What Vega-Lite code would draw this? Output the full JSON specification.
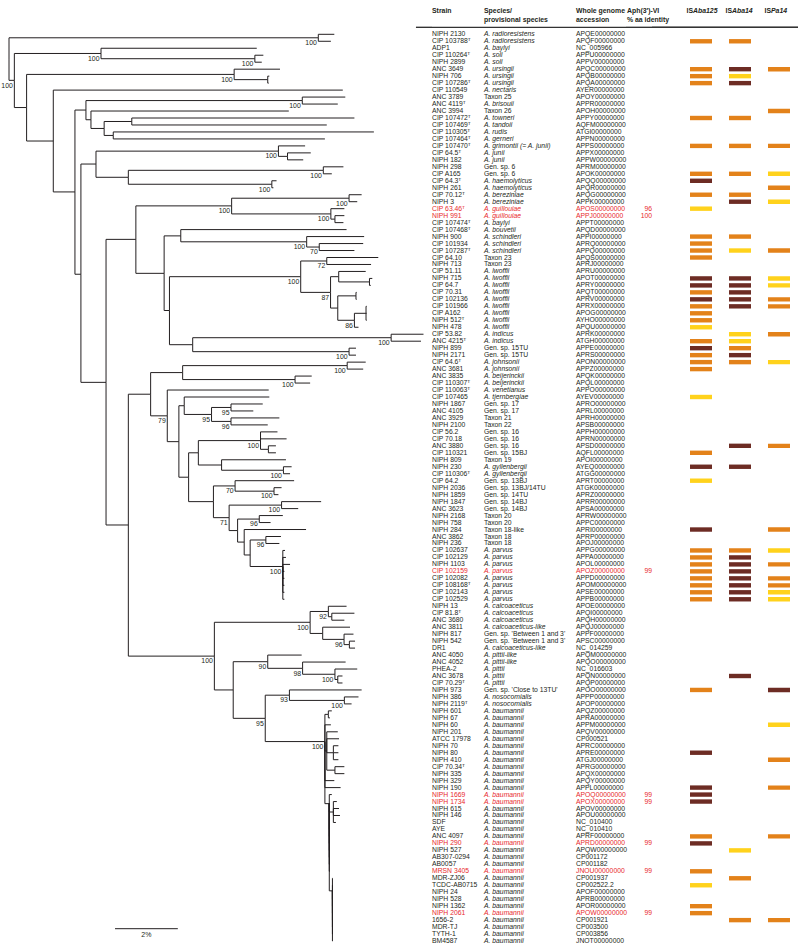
{
"$schema": "https://vega.github.io/schema/vega-lite/v6.json",
"padding": 0, "spacing": 0, "bounds": "flush", "background": "white",
"config": {"view": {"stroke": null}, "axis": {"disable": true}, "legend": {"disable": true},
  "text": {"font": "Liberation Sans", "fontSize": 6.8, "baseline": "middle", "align": "left", "color": "#231F20", "fill": "#231F20"},
  "rule": {"color": "#231F20", "strokeWidth": 1}},
"datasets": {
"headers": [
 {"col": "strain", "text": ["Strain"]},
 {"col": "species", "text": ["Species/", "provisional species"]},
 {"col": "acc", "text": ["Whole genome", "accession"]},
 {"col": "aph", "text": ["Aph(3′)-VI", "% aa identity"]},
 {"col": "a", "pre": "IS", "suf": "Aba125"},
 {"col": "b", "pre": "IS", "suf": "Aba14"},
 {"col": "c", "pre": "IS", "suf": "Pa14"}
],
"nodes": [
{"id":"root","parent":null,"x":0,"y":3.55},
{"id":"n43","parent":"root","x":0.17,"y":6.6,"bs":100},
{"id":"rad","parent":"root","x":9.85,"y":0.5,"bs":100},
{"id":"bs","parent":"n43","x":2.93,"y":2.75,"bs":100},
{"id":"soli","parent":"bs","x":7.83,"y":3.5,"bs":100},
{"id":"A","parent":"n43","x":0.56,"y":10.5},
{"id":"urs","parent":"A","x":7.17,"y":5.75,"bs":100},
{"id":"urs2","parent":"urs","x":8.24,"y":6.5},
{"id":"B","parent":"A","x":1.41,"y":15.3},
{"id":"C","parent":"B","x":2.10,"y":22.6},
{"id":"D","parent":"C","x":2.45,"y":10.86},
{"id":"tt","parent":"D","x":9.34,"y":9.5,"bs":100},
{"id":"F","parent":"D","x":2.61,"y":12.25},
{"id":"G","parent":"F","x":3.03,"y":13.5},
{"id":"H","parent":"G","x":3.91,"y":12.5},
{"id":"I","parent":"G","x":3.32,"y":14.5},
{"id":"E","parent":"C","x":2.29,"y":34.4},
{"id":"J","parent":"E","x":2.77,"y":18.6},
{"id":"L","parent":"J","x":8.58,"y":16.75,"bs":100},
{"id":"M","parent":"L","x":8.87,"y":17.5},
{"id":"N","parent":"J","x":3.80,"y":20.5},
{"id":"O","parent":"N","x":10.01,"y":19.5,"bs":100},
{"id":"P","parent":"N","x":8.37,"y":21.5,"bs":100},
{"id":"K","parent":"E","x":3.09,"y":49.9},
{"id":"Q","parent":"K","x":4.04,"y":29.4},
{"id":"R","parent":"Q","x":7.09,"y":24.6,"bs":100},
{"id":"S","parent":"R","x":10.83,"y":23.5,"bs":100},
{"id":"T","parent":"R","x":10.25,"y":25.75,"bs":100},
{"id":"U","parent":"T","x":10.38,"y":26.5},
{"id":"V","parent":"Q","x":4.94,"y":34.27},
{"id":"W","parent":"V","x":5.47,"y":28.9},
{"id":"X","parent":"W","x":9.48,"y":29.75,"bs":100},
{"id":"Y","parent":"X","x":9.88,"y":30.5,"bs":70},
{"id":"Z","parent":"V","x":5.11,"y":39.6},
{"id":"AA","parent":"Z","x":9.29,"y":34.75,"bs":100},
{"id":"AB","parent":"AA","x":10.12,"y":32.5,"bs":72},
{"id":"AC","parent":"AA","x":10.24,"y":37,"bs":87},
{"id":"AD","parent":"AC","x":10.50,"y":34.75},
{"id":"AE","parent":"AD","x":11.48,"y":35.5},
{"id":"AF","parent":"AC","x":10.47,"y":39.25},
{"id":"AG","parent":"AF","x":11.05,"y":37.5},
{"id":"AH","parent":"AF","x":11.0,"y":41,"bs":86},
{"id":"AI","parent":"AH","x":11.37,"y":40},
{"id":"AJ","parent":"Z","x":5.85,"y":44.5},
{"id":"AK","parent":"AJ","x":12.17,"y":43.5,"bs":100},
{"id":"AL","parent":"AJ","x":10.83,"y":45.5,"bs":100},
{"id":"BP","parent":"K","x":3.80,"y":70.35},
{"id":"AP","parent":"BP","x":4.51,"y":51.6},
{"id":"AO","parent":"AP","x":5.53,"y":48.5},
{"id":"AM","parent":"AO","x":10.77,"y":47.5,"bs":100},
{"id":"AN","parent":"AO","x":9.11,"y":49.5,"bs":100},
{"id":"AQ","parent":"AP","x":5.04,"y":54.7,"bs":79},
{"id":"AR","parent":"AQ","x":5.41,"y":58.4},
{"id":"AS","parent":"AR","x":5.58,"y":53.25},
{"id":"AT","parent":"AS","x":6.45,"y":54.5,"bs":95},
{"id":"AU","parent":"AT","x":7.07,"y":53.5,"bs":95},
{"id":"AV","parent":"AT","x":7.07,"y":55.5,"bs":96},
{"id":"AW","parent":"AR","x":5.72,"y":63.5},
{"id":"AX","parent":"AW","x":6.03,"y":60},
{"id":"AY","parent":"AX","x":8.01,"y":58.25,"bs":100},
{"id":"BB","parent":"AY","x":8.26,"y":59.5},
{"id":"BA","parent":"AX","x":6.77,"y":61.75},
{"id":"BC","parent":"BA","x":8.74,"y":62.5,"bs":100},
{"id":"BD","parent":"AW","x":6.51,"y":67.0},
{"id":"BE","parent":"BD","x":7.20,"y":64.75,"bs":70},
{"id":"BF","parent":"BE","x":8.44,"y":65.5,"bs":100},
{"id":"BG","parent":"BD","x":7.01,"y":69.3,"bs":71},
{"id":"BH","parent":"BG","x":8.68,"y":67.5,"bs":100},
{"id":"BI","parent":"BG","x":7.28,"y":71.15},
{"id":"BJ","parent":"BI","x":7.97,"y":69.5,"bs":96},
{"id":"BK","parent":"BI","x":7.49,"y":72.8},
{"id":"BL","parent":"BK","x":7.68,"y":74.65},
{"id":"BM","parent":"BL","x":8.18,"y":72.5,"bs":96},
{"id":"BN","parent":"BL","x":8.72,"y":76.3,"bs":100},
{"id":"BO","parent":"BP","x":6.54,"y":89.15,"bs":100},
{"id":"BQ","parent":"BO","x":9.59,"y":84.3,"bs":100},
{"id":"BR","parent":"BQ","x":10.17,"y":82.75,"bs":92},
{"id":"BT","parent":"BR","x":10.28,"y":83.5},
{"id":"BS","parent":"BQ","x":9.99,"y":85.9},
{"id":"BU","parent":"BS","x":10.67,"y":86.75,"bs":96},
{"id":"BV","parent":"BU","x":10.84,"y":87.5},
{"id":"BW","parent":"BO","x":7.14,"y":94.0},
{"id":"BX","parent":"BW","x":8.24,"y":89.95,"bs":90},
{"id":"BY","parent":"BX","x":9.35,"y":90.9,"bs":98},
{"id":"BZ","parent":"BY","x":10.38,"y":91.75,"bs":100},
{"id":"CA","parent":"BZ","x":10.47,"y":92.5},
{"id":"CB","parent":"BW","x":8.16,"y":98.07,"bs":95},
{"id":"CC","parent":"CB","x":8.93,"y":94.75,"bs":93},
{"id":"CD","parent":"CC","x":10.68,"y":95.5,"bs":100},
{"id":"CE","parent":"CB","x":10.06,"y":101.4,"bs":100},
{"id":"Ca","parent":"CE","x":10.17,"y":97.5},
{"id":"Cb","parent":"CE","x":10.12,"y":102.75},
{"id":"Cc","parent":"Cb","x":10.33,"y":103},
{"id":"Cd","parent":"Cb","x":10.38,"y":105.5},
{"id":"Cf","parent":"CE","x":10.20,"y":110.3},
{"id":"Cg","parent":"Cf","x":10.33,"y":111.5},
{"id":"Ch","parent":"Cf","x":10.30,"y":122.8}
],
"tbl": [
{"r":0,"s":"NIPH 2130","sp":"A. radioresistens","acc":"APQE00000000","p":"rad","t":10.36},
{"r":1,"s":"CIP 103788ᵀ","sp":"A. radioresistens","acc":"APQF00000000","a":"O","b":"O","p":"rad","t":10.25},
{"r":2,"s":"ADP1","sp":"A. baylyi","acc":"NC_005966","p":"bs","t":7.89},
{"r":3,"s":"CIP 110264ᵀ","sp":"A. soli","acc":"APPU00000000","p":"soli","t":8.10},
{"r":4,"s":"NIPH 2899","sp":"A. soli","acc":"APPV00000000","p":"soli","t":8.05},
{"r":5,"s":"ANC 3649","sp":"A. ursingii","acc":"APQC00000000","a":"O","b":"D","c":"O","p":"urs","t":8.63},
{"r":6,"s":"NIPH 706","sp":"A. ursingii","acc":"APQB00000000","a":"O","b":"Y","p":"urs2","t":8.29},
{"r":7,"s":"CIP 107286ᵀ","sp":"A. ursingii","acc":"APQA00000000","a":"O","b":"D","p":"urs2","t":8.27},
{"r":8,"s":"CIP 110549","sp":"A. nectaris","acc":"AYER00000000","p":"B","t":10.63},
{"r":9,"s":"ANC 3789","sp":"Taxon 25","acc":"APOY00000000","p":"tt","t":10.71},
{"r":10,"s":"ANC 4119ᵀ","sp":"A. brisouii","acc":"APPR00000000","p":"tt","t":10.47},
{"r":11,"s":"ANC 3994","sp":"Taxon 26","acc":"APOH00000000","c":"O","p":"F","t":8.91},
{"r":12,"s":"CIP 107472ᵀ","sp":"A. towneri","acc":"APPY00000000","a":"O","b":"O","p":"H","t":11.0},
{"r":13,"s":"CIP 107469ᵀ","sp":"A. tandoii","acc":"AQFM00000000","p":"H","t":10.12},
{"r":14,"s":"CIP 110305ᵀ","sp":"A. rudis","acc":"ATGI00000000","p":"I","t":11.62},
{"r":15,"s":"CIP 107464ᵀ","sp":"A. gerneri","acc":"APPN00000000","p":"I","t":10.06},
{"r":16,"s":"CIP 107470ᵀ","sp":"A. grimontii (= A. junii)","acc":"APPS00000000","a":"O","b":"O","c":"O","p":"L","t":9.43},
{"r":17,"s":"CIP 64.5ᵀ","sp":"A. junii","acc":"APPX00000000","p":"M","t":9.61},
{"r":18,"s":"NIPH 182","sp":"A. junii","acc":"APPW00000000","p":"M","t":9.37},
{"r":19,"s":"NIPH 298","sp":"Gen. sp. 6","acc":"APRM00000000","p":"O","t":10.65},
{"r":20,"s":"CIP A165","sp":"Gen. sp. 6","acc":"APOK00000000","a":"O","b":"O","c":"Y","p":"O","t":10.28},
{"r":21,"s":"CIP 64.3ᵀ","sp":"A. haemolyticus","acc":"APQQ00000000","a":"D","p":"P","t":8.52},
{"r":22,"s":"NIPH 261","sp":"A. haemolyticus","acc":"APQR00000000","c":"O","p":"P","t":8.42},
{"r":23,"s":"CIP 70.12ᵀ","sp":"A. bereziniae","acc":"APQG00000000","a":"O","b":"O","p":"S","t":11.23},
{"r":24,"s":"NIPH 3","sp":"A. bereziniae","acc":"APPK00000000","b":"D","c":"Y","p":"S","t":11.09},
{"r":25,"s":"CIP 63.46ᵀ","sp":"A. guillouiae","acc":"APOS00000000","aph":"96","a":"Y","p":"T","t":10.68},
{"r":26,"s":"NIPH 991","sp":"A. guillouiae","acc":"APPJ00000000","aph":"100","p":"U","t":10.68},
{"r":27,"s":"CIP 107474ᵀ","sp":"A. baylyi","acc":"APPT00000000","p":"U","t":10.65},
{"r":28,"s":"CIP 107468ᵀ","sp":"A. bouvetii","acc":"APQD00000000","p":"W","t":10.75},
{"r":29,"s":"NIPH 900","sp":"A. schindleri","acc":"APPI00000000","a":"O","b":"O","p":"X","t":11.31},
{"r":30,"s":"CIP 101934","sp":"A. schindleri","acc":"APRQ00000000","a":"O","p":"Y","t":11.28},
{"r":31,"s":"CIP 107287ᵀ","sp":"A. schindleri","acc":"APPQ00000000","a":"O","b":"Y","c":"O","p":"Y","t":11.0},
{"r":32,"s":"CIP 64.10","sp":"Taxon 23","acc":"APQS00000000","a":"O","p":"AB","t":11.76},
{"r":33,"s":"NIPH 713","sp":"Taxon 23","acc":"APRJ00000000","p":"AB","t":11.53},
{"r":34,"s":"CIP 51.11","sp":"A. lwoffii","acc":"APRU00000000","p":"AD","t":11.36},
{"r":35,"s":"NIPH 715","sp":"A. lwoffii","acc":"APOT00000000","a":"D","b":"D","c":"Y","p":"AE","t":11.57},
{"r":36,"s":"CIP 64.7","sp":"A. lwoffii","acc":"APRY00000000","a":"D","b":"D","c":"Y","p":"AE","t":11.52},
{"r":37,"s":"CIP 70.31","sp":"A. lwoffii","acc":"APQT00000000","a":"O","b":"D","p":"AG","t":11.07},
{"r":38,"s":"CIP 102136","sp":"A. lwoffii","acc":"APRV00000000","a":"D","b":"D","c":"O","p":"AG","t":11.07},
{"r":39,"s":"CIP 101966","sp":"A. lwoffii","acc":"APRX00000000","a":"O","b":"D","c":"O","p":"AI","t":11.39},
{"r":40,"s":"CIP A162","sp":"A. lwoffii","acc":"APOG00000000","a":"O","p":"AI","t":11.39},
{"r":41,"s":"NIPH 512ᵀ","sp":"A. lwoffii","acc":"AYHO00000000","a":"O","p":"AI","t":11.39},
{"r":42,"s":"NIPH 478","sp":"A. lwoffii","acc":"APQU00000000","a":"Y","p":"AH","t":11.13},
{"r":43,"s":"CIP 53.82","sp":"A. indicus","acc":"APRK00000000","b":"Y","c":"O","p":"AK","t":13.2},
{"r":44,"s":"ANC 4215ᵀ","sp":"A. indicus","acc":"ATGH00000000","a":"O","b":"Y","p":"AK","t":13.12},
{"r":45,"s":"NIPH 899","sp":"Gen. sp. 15TU","acc":"APPE00000000","a":"D","b":"O","p":"AL","t":11.05},
{"r":46,"s":"NIPH 2171","sp":"Gen. sp. 15TU","acc":"APRS00000000","a":"O","b":"D","p":"AL","t":11.05},
{"r":47,"s":"CIP 64.6ᵀ","sp":"A. johnsonii","acc":"APON00000000","a":"O","b":"O","c":"Y","p":"AM","t":11.36},
{"r":48,"s":"ANC 3681","sp":"A. johnsonii","acc":"APPZ00000000","a":"O","p":"AM","t":11.28},
{"r":49,"s":"ANC 3835","sp":"A. beijerinckii","acc":"APQK00000000","p":"AN","t":9.64},
{"r":50,"s":"CIP 110307ᵀ","sp":"A. beijerinckii","acc":"APQL00000000","p":"AN","t":9.59},
{"r":51,"s":"CIP 110063ᵀ","sp":"A. venetianus","acc":"APPO00000000","p":"AQ","t":8.27},
{"r":52,"s":"CIP 107465","sp":"A. tjernbergiae","acc":"AYEV00000000","a":"Y","p":"AS","t":8.29},
{"r":53,"s":"NIPH 1867","sp":"Gen. sp. 17","acc":"APRO00000000","p":"AU","t":8.08},
{"r":54,"s":"ANC 4105","sp":"Gen. sp. 17","acc":"APRL00000000","p":"AU","t":7.78},
{"r":55,"s":"ANC 3929","sp":"Taxon 21","acc":"APRH00000000","p":"AV","t":8.61},
{"r":56,"s":"NIPH 2100","sp":"Taxon 22","acc":"APSB00000000","p":"AV","t":8.24},
{"r":57,"s":"CIP 56.2","sp":"Gen. sp. 16","acc":"APPH00000000","p":"AY","t":8.55},
{"r":58,"s":"CIP 70.18","sp":"Gen. sp. 16","acc":"APRN00000000","p":"AY","t":8.84},
{"r":59,"s":"ANC 3880","sp":"Gen. sp. 16","acc":"APSD00000000","b":"D","c":"O","p":"BB","t":8.50},
{"r":60,"s":"CIP 110321","sp":"Gen. sp. 15BJ","acc":"AQFL00000000","a":"O","p":"BB","t":8.50},
{"r":61,"s":"NIPH 809","sp":"Taxon 19","acc":"APOI00000000","p":"BA","t":8.82},
{"r":62,"s":"NIPH 230","sp":"A. gyllenbergii","acc":"AYEQ00000000","a":"D","b":"D","p":"BC","t":9.0},
{"r":63,"s":"CIP 110306ᵀ","sp":"A. gyllenbergii","acc":"ATGG00000000","p":"BC","t":8.95},
{"r":64,"s":"CIP 64.2","sp":"Gen. sp. 13BJ","acc":"APRT00000000","a":"Y","p":"BE","t":9.08},
{"r":65,"s":"NIPH 2036","sp":"Gen. sp. 13BJ/14TU","acc":"ATGK00000000","p":"BF","t":8.68},
{"r":66,"s":"NIPH 1859","sp":"Gen. sp. 14TU","acc":"APRZ00000000","p":"BF","t":8.58},
{"r":67,"s":"NIPH 1847","sp":"Gen. sp. 14BJ","acc":"APRR00000000","p":"BH","t":9.94},
{"r":68,"s":"ANC 3623","sp":"Gen. sp. 14BJ","acc":"APSA00000000","p":"BH","t":9.21},
{"r":69,"s":"NIPH 2168","sp":"Taxon 20","acc":"APRW00000000","p":"BJ","t":8.72},
{"r":70,"s":"NIPH 758","sp":"Taxon 20","acc":"APPC00000000","p":"BJ","t":8.33},
{"r":71,"s":"NIPH 284","sp":"Taxon 18-like","acc":"APRI00000000","a":"D","c":"O","p":"BK","t":9.46},
{"r":72,"s":"ANC 3862","sp":"Taxon 18","acc":"APRP00000000","p":"BM","t":8.66},
{"r":73,"s":"NIPH 236","sp":"Taxon 18","acc":"APOJ00000000","p":"BM","t":8.61},
{"r":74,"s":"CIP 102637","sp":"A. parvus","acc":"APPG00000000","a":"O","b":"O","c":"Y","p":"BN","t":8.79},
{"r":75,"s":"CIP 102129","sp":"A. parvus","acc":"APPA00000000","a":"O","b":"D","p":"BN","t":8.82},
{"r":76,"s":"NIPH 1103","sp":"A. parvus","acc":"APOL00000000","a":"O","b":"D","c":"O","p":"BN","t":8.95},
{"r":77,"s":"CIP 102159","sp":"A. parvus","acc":"APOZ00000000","aph":"99","a":"O","b":"D","p":"BN","t":8.77},
{"r":78,"s":"CIP 102082","sp":"A. parvus","acc":"APPD00000000","a":"O","b":"D","c":"O","p":"BN","t":8.77},
{"r":79,"s":"CIP 108168ᵀ","sp":"A. parvus","acc":"APOM00000000","a":"O","b":"D","c":"O","p":"BN","t":8.77},
{"r":80,"s":"CIP 102143","sp":"A. parvus","acc":"APSE00000000","a":"O","b":"D","c":"Y","p":"BN","t":8.77},
{"r":81,"s":"CIP 102529","sp":"A. parvus","acc":"APPB00000000","a":"O","b":"D","c":"Y","p":"BN","t":8.77},
{"r":82,"s":"NIPH 13","sp":"A. calcoaceticus","acc":"APOE00000000","p":"BR","t":10.75},
{"r":83,"s":"CIP 81.8ᵀ","sp":"A. calcoaceticus","acc":"APQI00000000","p":"BT","t":11.0},
{"r":84,"s":"ANC 3680","sp":"A. calcoaceticus","acc":"APQH00000000","p":"BT","t":10.68},
{"r":85,"s":"ANC 3811","sp":"A. calcoaceticus-like","acc":"APQJ00000000","p":"BS","t":10.86},
{"r":86,"s":"NIPH 817","sp":"Gen. sp. 'Between 1 and 3'","acc":"APPF00000000","p":"BU","t":10.97},
{"r":87,"s":"NIPH 542","sp":"Gen. sp. 'Between 1 and 3'","acc":"APSC00000000","p":"BV","t":11.02},
{"r":88,"s":"DR1","sp":"A. calcoaceticus-like","acc":"NC_014259","p":"BV","t":11.02},
{"r":89,"s":"ANC 4050","sp":"A. pittii-like","acc":"APQM00000000","p":"BX","t":9.32},
{"r":90,"s":"ANC 4052","sp":"A. pittii-like","acc":"APQO00000000","p":"BY","t":10.72},
{"r":91,"s":"PHEA-2","sp":"A. pittii","acc":"NC_016603","p":"BZ","t":11.09},
{"r":92,"s":"ANC 3678","sp":"A. pittii","acc":"APQN00000000","b":"D","p":"CA","t":10.62},
{"r":93,"s":"CIP 70.29ᵀ","sp":"A. pittii","acc":"APQP00000000","p":"CA","t":10.62},
{"r":94,"s":"NIPH 973","sp":"Gen. sp. 'Close to 13TU'","acc":"APOO00000000","a":"O","c":"D","p":"CC","t":11.23},
{"r":95,"s":"NIPH 386","sp":"A. nosocomialis","acc":"APPP00000000","p":"CD","t":11.13},
{"r":96,"s":"NIPH 2119ᵀ","sp":"A. nosocomialis","acc":"APOP00000000","p":"CD","t":10.91},
{"r":97,"s":"NIPH 601","sp":"A. baumannii","acc":"APQZ00000000","p":"Ca","t":10.28},
{"r":98,"s":"NIPH 67","sp":"A. baumannii","acc":"APRA00000000","p":"Ca","t":10.22},
{"r":99,"s":"NIPH 60","sp":"A. baumannii","acc":"APPM00000000","c":"Y","p":"CE","t":10.25},
{"r":100,"s":"NIPH 201","sp":"A. baumannii","acc":"APQV00000000","p":"Cb","t":10.47},
{"r":101,"s":"ATCC 17978","sp":"A. baumannii","acc":"CP000521","p":"Cb","t":10.51},
{"r":102,"s":"NIPH 70","sp":"A. baumannii","acc":"APRC00000000","p":"Cc","t":10.49},
{"r":103,"s":"NIPH 80","sp":"A. baumannii","acc":"APRE00000000","a":"D","p":"Cc","t":10.49},
{"r":104,"s":"NIPH 410","sp":"A. baumannii","acc":"ATGJ00000000","c":"O","p":"Cc","t":10.49},
{"r":105,"s":"CIP 70.34ᵀ","sp":"A. baumannii","acc":"APRG00000000","p":"Cd","t":10.68},
{"r":106,"s":"NIPH 335","sp":"A. baumannii","acc":"APQX00000000","p":"Cd","t":10.68},
{"r":107,"s":"NIPH 329","sp":"A. baumannii","acc":"APQY00000000","p":"CE","t":10.36},
{"r":108,"s":"NIPH 190","sp":"A. baumannii","acc":"APPL00000000","a":"D","c":"O","p":"CE","t":10.56},
{"r":109,"s":"NIPH 1669","sp":"A. baumannii","acc":"APOQ00000000","aph":"99","a":"D","p":"Cf","t":10.28},
{"r":110,"s":"NIPH 1734","sp":"A. baumannii","acc":"APOX00000000","aph":"99","a":"D","p":"Cg","t":10.44},
{"r":111,"s":"NIPH 615","sp":"A. baumannii","acc":"APOV00000000","p":"Cg","t":10.51},
{"r":112,"s":"NIPH 146","sp":"A. baumannii","acc":"APOU00000000","p":"Cg","t":10.54},
{"r":113,"s":"SDF","sp":"A. baumannii","acc":"NC_010400","p":"Cg","t":10.41},
{"r":114,"s":"AYE","sp":"A. baumannii","acc":"NC_010410","p":"Cf","t":10.22},
{"r":115,"s":"ANC 4097","sp":"A. baumannii","acc":"APRF00000000","a":"O","c":"O","p":"Cf","t":10.22},
{"r":116,"s":"NIPH 290","sp":"A. baumannii","acc":"APRD00000000","aph":"99","a":"D","p":"Cf","t":10.22},
{"r":117,"s":"NIPH 527","sp":"A. baumannii","acc":"APQW00000000","b":"Y","p":"Cf","t":10.22},
{"r":118,"s":"AB307-0294","sp":"A. baumannii","acc":"CP001172","p":"Cf","t":10.22},
{"r":119,"s":"AB0057","sp":"A. baumannii","acc":"CP001182","p":"Cf","t":10.22},
{"r":120,"s":"MRSN 3405","sp":"A. baumannii","acc":"JNOU00000000","aph":"99","a":"O","p":"Cf","t":10.22},
{"r":121,"s":"MDR-ZJ06","sp":"A. baumannii","acc":"CP001937","b":"O","p":"Ch","t":10.31},
{"r":122,"s":"TCDC-AB0715","sp":"A. baumannii","acc":"CP002522.2","a":"Y","p":"Ch","t":10.31},
{"r":123,"s":"NIPH 24","sp":"A. baumannii","acc":"APOF00000000","p":"Ch","t":10.31},
{"r":124,"s":"NIPH 528","sp":"A. baumannii","acc":"APRB00000000","p":"Ch","t":10.31},
{"r":125,"s":"NIPH 1362","sp":"A. baumannii","acc":"APOR00000000","a":"O","p":"Ch","t":10.31},
{"r":126,"s":"NIPH 2061","sp":"A. baumannii","acc":"APOW00000000","aph":"99","a":"O","p":"Ch","t":10.31},
{"r":127,"s":"1656-2","sp":"A. baumannii","acc":"CP001921","b":"O","c":"O","p":"Ch","t":10.31},
{"r":128,"s":"MDR-TJ","sp":"A. baumannii","acc":"CP003500","p":"Ch","t":10.31},
{"r":129,"s":"TYTH-1","sp":"A. baumannii","acc":"CP003856","p":"Ch","t":10.31},
{"r":130,"s":"BM4587","sp":"A. baumannii","acc":"JNOT00000000","p":"Ch","t":10.31}
]
},
"hconcat": [
{
 "width": 432, "height": 949,
 "layer": [
  {"data": {"name": "tbl"},
   "transform": [{"lookup": "p", "from": {"data": {"name": "nodes"}, "key": "id", "fields": ["x", "y"]}, "as": ["px", "py"]}],
   "mark": {"type": "rule"},
   "encoding": {
    "x": {"field": "px", "type": "quantitative", "scale": {"domain": [-0.287, 13.471], "nice": false, "zero": false}},
    "x2": {"field": "t"},
    "y": {"field": "r", "type": "quantitative", "scale": {"domain": [-4.918, 131.14], "nice": false, "zero": false, "reverse": true}}}},
  {"data": {"name": "tbl"},
   "transform": [{"lookup": "p", "from": {"data": {"name": "nodes"}, "key": "id", "fields": ["x", "y"]}, "as": ["px", "py"]}],
   "mark": {"type": "rule"},
   "encoding": {
    "x": {"field": "px", "type": "quantitative", "scale": {"domain": [-0.287, 13.471], "nice": false, "zero": false}},
    "y": {"field": "r", "type": "quantitative", "scale": {"domain": [-4.918, 131.14], "nice": false, "zero": false, "reverse": true}},
    "y2": {"field": "py"}}},
  {"data": {"name": "nodes"},
   "transform": [{"lookup": "parent", "from": {"data": {"name": "nodes"}, "key": "id", "fields": ["x", "y"]}, "as": ["px", "py"]}, {"filter": "isValid(datum.px)"}],
   "mark": {"type": "rule"},
   "encoding": {
    "x": {"field": "px", "type": "quantitative", "scale": {"domain": [-0.287, 13.471], "nice": false, "zero": false}},
    "x2": {"field": "x"},
    "y": {"field": "y", "type": "quantitative", "scale": {"domain": [-4.918, 131.14], "nice": false, "zero": false, "reverse": true}}}},
  {"data": {"name": "nodes"},
   "transform": [{"lookup": "parent", "from": {"data": {"name": "nodes"}, "key": "id", "fields": ["x", "y"]}, "as": ["px", "py"]}, {"filter": "isValid(datum.px)"}],
   "mark": {"type": "rule"},
   "encoding": {
    "x": {"field": "px", "type": "quantitative", "scale": {"domain": [-0.287, 13.471], "nice": false, "zero": false}},
    "y": {"field": "y", "type": "quantitative", "scale": {"domain": [-4.918, 131.14], "nice": false, "zero": false, "reverse": true}},
    "y2": {"field": "py"}}},
  {"data": {"name": "nodes"},
   "transform": [{"filter": "isValid(datum.bs)"}],
   "mark": {"type": "text", "align": "right", "dx": -1.5, "dy": 5.3, "fontSize": 6.9},
   "encoding": {
    "x": {"field": "x", "type": "quantitative", "scale": {"domain": [-0.287, 13.471], "nice": false, "zero": false}},
    "y": {"field": "y", "type": "quantitative", "scale": {"domain": [-4.918, 131.14], "nice": false, "zero": false, "reverse": true}},
    "text": {"field": "bs"}}},
  {"data": {"values": [{"x": 3.376, "x2": 5.376, "xm": 4.376, "y": 128.23, "ly": 129.13, "label": "2%"}]},
   "layer": [
    {"mark": {"type": "rule"},
     "encoding": {
      "x": {"field": "x", "type": "quantitative", "scale": {"domain": [-0.287, 13.471], "nice": false, "zero": false}},
      "x2": {"field": "x2"},
      "y": {"field": "y", "type": "quantitative", "scale": {"domain": [-4.918, 131.14], "nice": false, "zero": false, "reverse": true}}}},
    {"mark": {"type": "text", "align": "center", "fontSize": 7.0},
     "encoding": {
      "x": {"field": "xm", "type": "quantitative", "scale": {"domain": [-0.287, 13.471], "nice": false, "zero": false}},
      "y": {"field": "ly", "type": "quantitative", "scale": {"domain": [-4.918, 131.14], "nice": false, "zero": false, "reverse": true}},
      "text": {"field": "label"}}}
   ]},
  {"data": {"name": "headers"},
   "transform": [{"filter": "datum.col == 'strain'"}],
   "mark": {"type": "rule", "strokeWidth": 1.4, "color": "#333333"},
   "encoding": {
    "x": {"datum": 12.96, "type": "quantitative", "scale": {"domain": [-0.287, 13.471], "nice": false, "zero": false}},
    "x2": {"datum": 13.471},
    "y": {"datum": -1.0, "type": "quantitative", "scale": {"domain": [-4.918, 131.14], "nice": false, "zero": false, "reverse": true}}}}
 ]
},
{
 "width": 52, "height": 949,
 "layer": [
  {"data": {"name": "tbl"},
   "mark": {"type": "text"},
   "encoding": {
    "x": {"value": 0},
    "y": {"field": "r", "type": "quantitative", "scale": {"domain": [-4.918, 131.14], "nice": false, "zero": false, "reverse": true}},
    "text": {"field": "s"},
    "color": {"condition": {"test": "isValid(datum.aph)", "value": "#E8282B"}, "value": "#231F20"}}},
  {"data": {"name": "headers"},
   "transform": [{"filter": "datum.col == 'strain'"}],
   "layer": [
    {"mark": {"type": "text", "fontWeight": "bold", "fontSize": 6.9, "baseline": "alphabetic", "lineHeight": 8.3},
     "encoding": {"x": {"value": 0},
      "y": {"datum": -3.01, "type": "quantitative", "scale": {"domain": [-4.918, 131.14], "nice": false, "zero": false, "reverse": true}},
      "text": {"field": "text"}}},
    {"mark": {"type": "rule", "strokeWidth": 1.4, "color": "#333333"},
     "encoding": {"y": {"datum": -1.0, "type": "quantitative", "scale": {"domain": [-4.918, 131.14], "nice": false, "zero": false, "reverse": true}}}}
   ]}
 ]
},
{
 "width": 92, "height": 949,
 "layer": [
  {"data": {"name": "tbl"},
   "transform": [{"filter": "substring(datum.sp, 0, 3) == 'A. '"}],
   "mark": {"type": "text", "fontStyle": "italic"},
   "encoding": {
    "x": {"value": 0},
    "y": {"field": "r", "type": "quantitative", "scale": {"domain": [-4.918, 131.14], "nice": false, "zero": false, "reverse": true}},
    "text": {"field": "sp"},
    "color": {"condition": {"test": "isValid(datum.aph)", "value": "#E8282B"}, "value": "#231F20"}}},
  {"data": {"name": "tbl"},
   "transform": [{"filter": "substring(datum.sp, 0, 3) != 'A. '"}],
   "mark": {"type": "text"},
   "encoding": {
    "x": {"value": 0},
    "y": {"field": "r", "type": "quantitative", "scale": {"domain": [-4.918, 131.14], "nice": false, "zero": false, "reverse": true}},
    "text": {"field": "sp"},
    "color": {"condition": {"test": "isValid(datum.aph)", "value": "#E8282B"}, "value": "#231F20"}}},
  {"data": {"name": "headers"},
   "transform": [{"filter": "datum.col == 'species'"}],
   "layer": [
    {"mark": {"type": "text", "fontWeight": "bold", "fontSize": 6.9, "baseline": "alphabetic", "lineHeight": 8.3},
     "encoding": {"x": {"value": 0},
      "y": {"datum": -3.01, "type": "quantitative", "scale": {"domain": [-4.918, 131.14], "nice": false, "zero": false, "reverse": true}},
      "text": {"field": "text"}}},
    {"mark": {"type": "rule", "strokeWidth": 1.4, "color": "#333333"},
     "encoding": {"y": {"datum": -1.0, "type": "quantitative", "scale": {"domain": [-4.918, 131.14], "nice": false, "zero": false, "reverse": true}}}}
   ]}
 ]
},
{
 "width": 50, "height": 949,
 "layer": [
  {"data": {"name": "tbl"},
   "mark": {"type": "text"},
   "encoding": {
    "x": {"value": 0},
    "y": {"field": "r", "type": "quantitative", "scale": {"domain": [-4.918, 131.14], "nice": false, "zero": false, "reverse": true}},
    "text": {"field": "acc"},
    "color": {"condition": {"test": "isValid(datum.aph)", "value": "#E8282B"}, "value": "#231F20"}}},
  {"data": {"name": "headers"},
   "transform": [{"filter": "datum.col == 'acc'"}],
   "layer": [
    {"mark": {"type": "text", "fontWeight": "bold", "fontSize": 6.9, "baseline": "alphabetic", "lineHeight": 8.3},
     "encoding": {"x": {"value": 0},
      "y": {"datum": -3.01, "type": "quantitative", "scale": {"domain": [-4.918, 131.14], "nice": false, "zero": false, "reverse": true}},
      "text": {"field": "text"}}},
    {"mark": {"type": "rule", "strokeWidth": 1.4, "color": "#333333"},
     "encoding": {"y": {"datum": -1.0, "type": "quantitative", "scale": {"domain": [-4.918, 131.14], "nice": false, "zero": false, "reverse": true}}}}
   ]}
 ]
},
{
 "width": 26, "height": 949,
 "layer": [
  {"data": {"name": "tbl"},
   "transform": [{"filter": "isValid(datum.aph)"}],
   "mark": {"type": "text", "align": "right", "color": "#E8282B", "fill": "#E8282B"},
   "encoding": {
    "x": {"value": "width"},
    "y": {"field": "r", "type": "quantitative", "scale": {"domain": [-4.918, 131.14], "nice": false, "zero": false, "reverse": true}},
    "text": {"field": "aph"}}},
  {"data": {"name": "headers"},
   "transform": [{"filter": "datum.col == 'aph'"}],
   "layer": [
    {"mark": {"type": "text", "fontWeight": "bold", "fontSize": 6.9, "baseline": "alphabetic", "lineHeight": 8.3, "dx": 1},
     "encoding": {"x": {"value": 0},
      "y": {"datum": -3.01, "type": "quantitative", "scale": {"domain": [-4.918, 131.14], "nice": false, "zero": false, "reverse": true}},
      "text": {"field": "text"}}},
    {"mark": {"type": "rule", "strokeWidth": 1.4, "color": "#333333"},
     "encoding": {"y": {"datum": -1.0, "type": "quantitative", "scale": {"domain": [-4.918, 131.14], "nice": false, "zero": false, "reverse": true}}}}
   ]}
 ]
},
{
 "width": 146, "height": 949,
 "layer": [
  {"data": {"name": "tbl"},
   "transform": [{"fold": ["a", "b", "c"], "as": ["col", "v"]}, {"filter": "isValid(datum.v)"}],
   "mark": {"type": "rect", "height": 4.4},
   "encoding": {
    "x": {"field": "col", "type": "nominal", "scale": {"domain": ["a", "b", "c"], "paddingInner": 0.436, "paddingOuter": 0.59, "align": 0.826}},
    "y": {"field": "r", "type": "quantitative", "scale": {"domain": [-4.918, 131.14], "nice": false, "zero": false, "reverse": true}},
    "color": {"field": "v", "type": "nominal", "scale": {"domain": ["O", "D", "Y"], "range": ["#E3821A", "#6D2C24", "#FFD21C"]}}}},
  {"data": {"name": "headers"},
   "transform": [{"filter": "datum.col == 'a' || datum.col == 'b' || datum.col == 'c'"}],
   "layer": [
    {"mark": {"type": "text", "fontWeight": "bold", "fontSize": 6.9, "baseline": "alphabetic", "dx": -3.5},
     "encoding": {
      "x": {"field": "col", "type": "nominal", "bandPosition": 0, "scale": {"domain": ["a", "b", "c"], "paddingInner": 0.436, "paddingOuter": 0.59, "align": 0.826}},
      "y": {"datum": -3.01, "type": "quantitative", "scale": {"domain": [-4.918, 131.14], "nice": false, "zero": false, "reverse": true}},
      "text": {"field": "pre"}}},
    {"mark": {"type": "text", "fontWeight": "bold", "fontStyle": "italic", "fontSize": 6.9, "baseline": "alphabetic", "dx": 3.0},
     "encoding": {
      "x": {"field": "col", "type": "nominal", "bandPosition": 0, "scale": {"domain": ["a", "b", "c"], "paddingInner": 0.436, "paddingOuter": 0.59, "align": 0.826}},
      "y": {"datum": -3.01, "type": "quantitative", "scale": {"domain": [-4.918, 131.14], "nice": false, "zero": false, "reverse": true}},
      "text": {"field": "suf"}}},
    {"mark": {"type": "rule", "strokeWidth": 1.4, "color": "#333333"},
     "encoding": {"y": {"datum": -1.0, "type": "quantitative", "scale": {"domain": [-4.918, 131.14], "nice": false, "zero": false, "reverse": true}}}}
   ]}
 ]
}
]
}
